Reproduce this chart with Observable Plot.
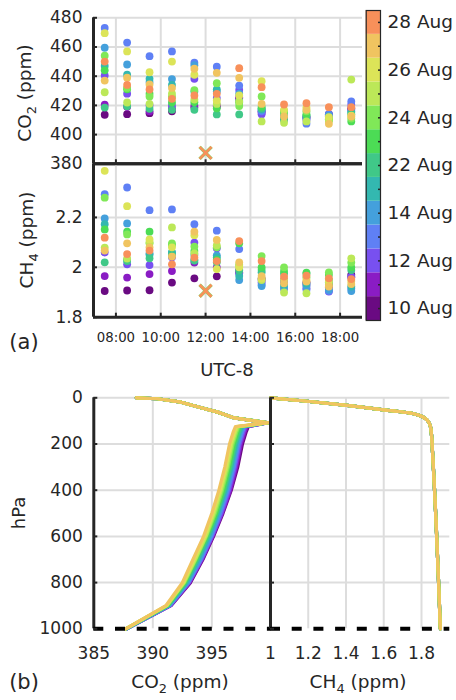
<!DOCTYPE html>
<html><head><meta charset="utf-8">
<script src="https://cdn.jsdelivr.net/npm/d3@7"></script>
<script src="https://cdn.jsdelivr.net/npm/@observablehq/plot@0.6"></script>
<style>
body{margin:0;background:#fff;}
#wrap{position:relative;width:456px;height:700px;overflow:hidden;font-family:"DejaVu Sans",sans-serif;color:#262626;background:#fff;}
#wrap svg{position:absolute;overflow:visible;background:transparent;}
.lbl{position:absolute;white-space:nowrap;font-family:"DejaVu Sans",sans-serif;color:#262626;line-height:1;}
.sub{font-size:0.7em;position:relative;top:0.38em;}
</style></head><body><div id="wrap"></div>
<script>
// ---------- categories ----------
const dates = ["10 Aug","11 Aug","12 Aug","13 Aug","14 Aug","21 Aug","22 Aug","23 Aug","24 Aug","25 Aug","26 Aug","27 Aug","28 Aug"];
const dateColors = ["#6a0a82","#8a1cc4","#7850f0","#5f80f5","#44a0dc","#33b8b0","#40c888","#4cdc55","#80e858","#bce858","#dce458","#f0c460","#f8905a"];
const colorbarLabels = ["10 Aug","12 Aug","14 Aug","22 Aug","24 Aug","26 Aug","28 Aug"];
const sampleHours = [7.5, 8.5, 9.5, 10.5, 11.5, 12.5, 13.5, 14.5, 15.5, 16.5, 17.5, 18.5];
const xTickHours = [8, 10, 12, 14, 16, 18];
const xTickLabels = ["08:00","10:00","12:00","14:00","16:00","18:00"];
const co2Ticks = [380, 400, 420, 440, 460, 480];
const ch4Ticks = [1.8, 2.0, 2.2];

// ---------- surface CO2 (ppm), one value per sample hour ----------
const co2Aug10 = [413.6, 414.0, 414.7, 416.0, 418.5, 419.0, 424.5, 416.0, 413.0, 412.0, 414.0, 418.0];
const co2Aug11 = [420.5, 419.0, 416.0, 418.0, 420.0, 420.0, 425.6, 415.0, 412.0, 411.5, 413.0, 417.0];
const co2Aug12 = [440.5, 428.0, 420.0, 420.0, 438.2, 425.0, 430.6, 414.0, 410.0, 410.0, 412.5, 420.5];
const co2Aug13 = [473.0, 463.0, 453.7, 457.0, 449.2, 446.5, 433.6, 416.0, 413.0, 407.5, 414.0, 422.7];
const co2Aug14 = [459.5, 448.0, 436.0, 438.0, 447.5, 429.5, 428.0, 417.0, 414.0, 411.0, 413.0, 416.0];
const co2Aug21 = [447.0, 441.0, 438.2, 434.0, 429.5, 431.0, 423.0, 417.5, 410.5, 412.5, 410.5, 415.0];
const co2Aug22 = [418.5, 419.5, 417.7, 417.0, 417.0, 413.8, 413.8, 418.0, 411.0, 413.0, 410.0, 414.0];
const co2Aug23 = [444.0, 431.0, 428.0, 422.0, 422.2, 418.0, 422.0, 419.0, 416.0, 414.0, 410.3, 409.0];
const co2Aug24 = [454.0, 432.0, 426.1, 426.0, 430.5, 435.2, 419.6, 426.1, 415.0, 416.0, 411.0, 411.0];
const co2Aug25 = [429.0, 422.0, 421.1, 428.0, 424.0, 421.0, 422.7, 409.0, 408.1, 409.0, 409.5, 437.7];
const co2Aug26 = [469.5, 457.0, 442.7, 450.0, 441.0, 423.4, 426.8, 436.6, 417.0, 418.5, 412.0, 413.0];
const co2Aug27 = [437.0, 439.0, 434.3, 432.0, 445.1, 442.3, 438.9, 421.0, 412.4, 417.0, 407.4, 412.4];
const co2Aug28 = [450.0, 434.0, 430.9, 424.5, 426.8, 427.9, 445.5, 432.5, 420.6, 421.5, 418.8, 418.8];

// ---------- surface CH4 (ppm) ----------
const ch4Aug10 = [1.905, 1.907, 1.908, 1.939, 1.956, 1.964, 1.980, 1.955, 1.950, 1.940, 1.930, 1.970];
const ch4Aug11 = [1.965, 1.959, 1.973, 1.985, 2.019, 2.000, 1.990, 1.950, 1.940, 1.930, 1.920, 1.960];
const ch4Aug12 = [2.059, 2.012, 2.009, 2.040, 2.099, 2.076, 1.976, 1.940, 1.943, 1.916, 1.903, 1.963];
const ch4Aug13 = [2.293, 2.320, 2.229, 2.232, 2.173, 2.147, 2.073, 1.930, 1.913, 1.910, 1.905, 1.915];
const ch4Aug14 = [2.196, 2.176, 2.055, 2.059, 2.050, 2.048, 1.949, 1.925, 1.920, 1.925, 1.910, 1.905];
const ch4Aug21 = [2.173, 2.030, 2.050, 2.060, 2.030, 2.040, 1.965, 1.980, 1.930, 1.935, 1.940, 1.923];
const ch4Aug22 = [2.020, 2.025, 2.036, 2.050, 2.027, 2.020, 1.987, 1.989, 1.975, 1.975, 1.950, 1.989];
const ch4Aug23 = [2.152, 2.143, 2.143, 2.090, 2.065, 2.030, 2.096, 2.000, 1.985, 1.979, 1.970, 2.000];
const ch4Aug24 = [2.279, 2.132, 2.096, 2.096, 2.083, 2.080, 2.010, 2.045, 2.000, 1.960, 1.980, 2.019];
const ch4Aug25 = [2.079, 2.035, 2.100, 2.160, 2.056, 2.088, 2.005, 1.949, 1.899, 1.896, 1.930, 2.036];
const ch4Aug26 = [2.387, 2.245, 2.112, 2.080, 2.129, 1.993, 2.000, 1.955, 1.950, 1.950, 1.943, 1.945];
const ch4Aug27 = [2.067, 2.096, 2.080, 2.043, 2.143, 2.110, 2.020, 1.965, 1.936, 1.943, 1.923, 1.933];
const ch4Aug28 = [2.119, 2.053, 2.067, 2.012, 2.039, 2.025, 2.105, 2.025, 1.963, 1.967, 1.956, 1.953];

// ---------- single observation (cross) ----------
const obsHour = [12];
const obsCO2 = [387.5];
const obsCH4 = [1.906];

// ---------- vertical profiles (b) ----------
const profileLevels = [0, 4, 19, 43, 62, 87, 100, 108, 125, 150, 200, 300, 400, 500, 600, 700, 800, 900, 1000];
const profAug10 = [388.6, 390.4, 392.4, 394.1, 395.5, 396.9, 398.6, 399.8, 398.1, 397.9, 397.6, 397.2, 396.65, 395.95, 395.15, 394.25, 393.2, 391.55, 387.8];
const profAug11 = [388.6, 390.4, 392.4, 394.1, 395.5, 396.9, 398.6, 399.8, 398.0, 397.8, 397.5, 397.1, 396.6, 395.9, 395.1, 394.2, 393.15, 391.5, 387.8];
const profAug12 = [388.6, 390.4, 392.4, 394.1, 395.5, 396.9, 398.6, 399.8, 397.9, 397.7, 397.4, 397.0, 396.5, 395.85, 395.05, 394.15, 393.1, 391.5, 387.8];
const profAug13 = [388.6, 390.4, 392.4, 394.1, 395.5, 396.9, 398.6, 399.8, 397.8, 397.6, 397.3, 396.9, 396.4, 395.75, 395.0, 394.1, 393.05, 391.45, 387.8];
const profAug14 = [388.6, 390.4, 392.4, 394.1, 395.5, 396.9, 398.6, 399.8, 397.7, 397.5, 397.2, 396.8, 396.3, 395.65, 394.9, 394.0, 393.0, 391.4, 387.8];
const profAug21 = [388.6, 390.4, 392.4, 394.1, 395.5, 396.9, 398.6, 399.8, 397.6, 397.4, 397.1, 396.7, 396.2, 395.55, 394.8, 393.9, 392.9, 391.35, 387.75];
const profAug22 = [388.6, 390.4, 392.4, 394.1, 395.5, 396.9, 398.7, 399.8, 397.5, 397.3, 397.0, 396.6, 396.1, 395.45, 394.7, 393.8, 392.8, 391.3, 387.75];
const profAug23 = [388.6, 390.4, 392.4, 394.1, 395.5, 396.9, 398.7, 399.8, 397.4, 397.2, 396.9, 396.5, 396.0, 395.4, 394.6, 393.7, 392.75, 391.25, 387.7];
const profAug24 = [388.6, 390.4, 392.4, 394.1, 395.5, 396.9, 398.7, 399.8, 397.3, 397.1, 396.8, 396.4, 395.9, 395.3, 394.55, 393.65, 392.7, 391.2, 387.7];
const profAug25 = [388.6, 390.4, 392.4, 394.1, 395.5, 396.9, 398.6, 399.8, 397.2, 397.0, 396.7, 396.3, 395.8, 395.2, 394.5, 393.6, 392.65, 391.2, 387.7];
const profAug26 = [388.6, 390.4, 392.4, 394.1, 395.5, 396.9, 398.6, 399.8, 397.1, 396.9, 396.6, 396.2, 395.7, 395.1, 394.4, 393.5, 392.6, 391.15, 387.7];
const profAug27 = [388.6, 390.4, 392.4, 394.1, 395.5, 396.9, 398.6, 399.8, 397.0, 396.8, 396.5, 396.1, 395.6, 395.0, 394.3, 393.4, 392.5, 391.1, 387.7];
const ch4Levels = [0, 15, 33, 52, 69, 80, 91, 105, 127, 160, 214, 1000];
const ch4Profile = [1.0, 1.194, 1.406, 1.60, 1.759, 1.800, 1.822, 1.838, 1.848, 1.853, 1.857, 1.90];
const hPaTicks = [0, 200, 400, 600, 800, 1000];
const co2ProfTicks = [385, 390, 395];
const ch4ProfTicks = [1, 1.2, 1.4, 1.6, 1.8];

// ---------- build tables ----------
const co2Series = [co2Aug10, co2Aug11, co2Aug12, co2Aug13, co2Aug14, co2Aug21, co2Aug22, co2Aug23, co2Aug24, co2Aug25, co2Aug26, co2Aug27, co2Aug28];
const ch4Series = [ch4Aug10, ch4Aug11, ch4Aug12, ch4Aug13, ch4Aug14, ch4Aug21, ch4Aug22, ch4Aug23, ch4Aug24, ch4Aug25, ch4Aug26, ch4Aug27, ch4Aug28];
const profSeries = [profAug10, profAug11, profAug12, profAug13, profAug14, profAug21, profAug22, profAug23, profAug24, profAug25, profAug26, profAug27];
const co2Table = [], ch4Table = [];
dates.forEach((d, i) => {
  sampleHours.forEach((h, j) => {
    co2Table.push({date: d, hour: h, value: co2Series[i][j], color: dateColors[i]});
    ch4Table.push({date: d, hour: h, value: ch4Series[i][j], color: dateColors[i]});
  });
});
const obsTable = obsHour.map((h, i) => ({hour: h, co2: obsCO2[i], ch4: obsCH4[i]}));
const profTable = [], ch4ProfTable = [];
profSeries.forEach((s, i) => {
  profileLevels.forEach((p, k) => profTable.push({date: dates[i], p, v: s[k], color: dateColors[i]}));
  ch4Levels.forEach((p, k) => ch4ProfTable.push({date: dates[i], p, v: ch4Profile[k], color: dateColors[i]}));
});

// ---------- styling ----------
const ink = "#262626", grid = "#dddddd", FONT = "DejaVu Sans";
const wrap = document.getElementById("wrap");
const baseStyle = {fontFamily: FONT, color: ink, background: "transparent", overflow: "visible"};
function place(svg, left, top) { svg.style.left = left + "px"; svg.style.top = top + "px"; wrap.append(svg); }
const fmt1 = d => String(+(+d).toFixed(1));
const fmtInt = d => String(d);
const hourLabel = h => xTickLabels[xTickHours.indexOf(h)];

// ---------- (a) CO2 ----------
place(Plot.plot({
  width: 380, height: 166, marginLeft: 93, marginRight: 18, marginTop: 17.3, marginBottom: 2.7,
  x: {domain: [7, 19]}, y: {domain: [380, 480]}, color: {type: "identity"},
  style: baseStyle,
  marks: [
    Plot.gridX(xTickHours, {stroke: grid, strokeOpacity: 1, strokeWidth: 2}),
    Plot.gridY(co2Ticks, {stroke: grid, strokeOpacity: 1, strokeWidth: 2}),
    Plot.dot(co2Table, {x: "hour", y: "value", fill: "color", r: 3.9}),
    Plot.dot(obsTable, {x: "hour", y: "co2", symbol: "times", stroke: "#7ed860", strokeWidth: 3.4, r: 5.5}),
    Plot.dot(obsTable, {x: "hour", y: "co2", symbol: "times", stroke: "#f8905a", strokeWidth: 2.6, r: 5.5}),
    Plot.ruleX([7], {stroke: ink, strokeWidth: 3}),
    Plot.ruleY([380], {stroke: ink, strokeWidth: 3}),
    Plot.axisY(co2Ticks, {tickSize: 4, dx: 4, strokeWidth: 2, tickFormat: () => "", label: null}),
    Plot.axisX(xTickHours, {tickSize: 4, dy: -4, strokeWidth: 2, tickFormat: () => "", label: null}),
    Plot.axisY(co2Ticks, {tickSize: 0, tickPadding: 11, fontSize: 17, fill: ink, tickFormat: fmtInt, label: null})
  ]
}), 0, 0);

// ---------- (a) CH4 ----------
place(Plot.plot({
  width: 380, height: 190, marginLeft: 93, marginRight: 18, marginTop: 3.3, marginBottom: 33.3,
  x: {domain: [7, 19]}, y: {domain: [1.8, 2.415]}, color: {type: "identity"},
  style: baseStyle,
  marks: [
    Plot.gridX(xTickHours, {stroke: grid, strokeOpacity: 1, strokeWidth: 2}),
    Plot.gridY(ch4Ticks, {stroke: grid, strokeOpacity: 1, strokeWidth: 2}),
    Plot.dot(ch4Table, {x: "hour", y: "value", fill: "color", r: 3.9}),
    Plot.dot(obsTable, {x: "hour", y: "ch4", symbol: "times", stroke: "#7ed860", strokeWidth: 3.4, r: 5.5}),
    Plot.dot(obsTable, {x: "hour", y: "ch4", symbol: "times", stroke: "#f8905a", strokeWidth: 2.6, r: 5.5}),
    Plot.ruleX([7], {stroke: ink, strokeWidth: 3}),
    Plot.ruleY([1.8, 2.415], {stroke: ink, strokeWidth: 3}),
    Plot.axisY(ch4Ticks, {tickSize: 4, dx: 4, strokeWidth: 2, tickFormat: () => "", label: null}),
    Plot.axisX(xTickHours, {tickSize: 4, dy: -4, strokeWidth: 2, tickFormat: () => "", label: null}),
    Plot.axisY(ch4Ticks, {tickSize: 0, tickPadding: 11, fontSize: 17, fill: ink, tickFormat: fmt1, label: null}),
    Plot.axisX(xTickHours, {tickSize: 0, tickPadding: 15, fontSize: 13.3, fill: ink, tickFormat: hourLabel, label: null})
  ]
}), 0, 160);

// ---------- colorbar ----------
place(Plot.plot({
  width: 96, height: 330, marginLeft: 5.7, marginRight: 76, marginTop: 10, marginBottom: 10,
  y: {type: "band", domain: dates.slice().reverse(), padding: 0, round: false}, color: {type: "identity"},
  style: baseStyle,
  marks: [
    Plot.cell(dates, {y: d => d, fill: (d, i) => dateColors[i], inset: 0}),
    Plot.frame({stroke: ink, strokeWidth: 1.2}),
    Plot.axisY(dates, {anchor: "right", tickSize: 3, dx: -3, strokeWidth: 1.5, tickFormat: () => "", label: null}),
    Plot.axisY(colorbarLabels, {anchor: "right", tickSize: 0, tickPadding: 7, fontSize: 18.5, fill: ink, label: null})
  ]
}), 360, 0);

// ---------- (b) CO2 profile ----------
place(Plot.plot({
  width: 272, height: 320, marginLeft: 93.3, marginRight: 1.7, marginTop: 17.3, marginBottom: 71.7,
  x: {domain: [385, 400]}, y: {domain: [0, 1000], reverse: true}, color: {type: "identity"},
  style: baseStyle,
  marks: [
    Plot.gridX([390, 395], {stroke: grid, strokeOpacity: 1, strokeWidth: 2}),
    Plot.gridY([0, 200, 400, 600, 800], {stroke: grid, strokeOpacity: 1, strokeWidth: 2}),
    Plot.line(profTable, {x: "v", y: "p", z: "date", stroke: "color", strokeWidth: 3.2, curve: "linear"}),
    Plot.ruleX([385], {stroke: ink, strokeWidth: 3}),
    Plot.ruleY([1000], {stroke: "#000", strokeWidth: 4, strokeDasharray: "10,11.7"}),
    Plot.axisY(hPaTicks, {tickSize: 4, dx: 4, strokeWidth: 2, tickFormat: () => "", label: null}),
    Plot.axisY(hPaTicks, {tickSize: 0, tickPadding: 11, fontSize: 17, fill: ink, tickFormat: fmtInt, label: null}),
    Plot.axisX(co2ProfTicks, {tickSize: 0, tickPadding: 18.5, fontSize: 17, fill: ink, tickFormat: fmtInt, label: null})
  ]
}), 0, 380);

// ---------- (b) CH4 profile ----------
place(Plot.plot({
  width: 196, height: 320, marginLeft: 10, marginRight: 6.7, marginTop: 17.3, marginBottom: 71.7,
  x: {domain: [1, 1.95]}, y: {domain: [0, 1000], reverse: true}, color: {type: "identity"},
  style: baseStyle,
  marks: [
    Plot.gridX([1.2, 1.4, 1.6, 1.8], {stroke: grid, strokeOpacity: 1, strokeWidth: 2}),
    Plot.gridY([0, 200, 400, 600, 800], {stroke: grid, strokeOpacity: 1, strokeWidth: 2}),
    Plot.line(ch4ProfTable, {x: "v", y: "p", z: "date", stroke: "color", strokeWidth: 3.2, curve: "monotone-y"}),
    Plot.ruleX([1], {stroke: ink, strokeWidth: 3}),
    Plot.ruleY([1000], {stroke: "#000", strokeWidth: 4, strokeDasharray: "10,11.7"}),
    Plot.axisY(hPaTicks, {tickSize: 4, dx: 4, strokeWidth: 2, tickFormat: () => "", label: null}),
    Plot.axisX(ch4ProfTicks, {tickSize: 0, tickPadding: 18.5, fontSize: 17, fill: ink, tickFormat: fmt1, label: null})
  ]
}), 260, 380);

// ---------- text labels ----------
function label(html, cx, cy, size, rotate) {
  const el = document.createElement("div");
  el.className = "lbl";
  el.innerHTML = html;
  el.style.fontSize = size + "px";
  el.style.left = cx + "px";
  el.style.top = cy + "px";
  el.style.transform = "translate(-50%,-50%)" + (rotate ? " rotate(-90deg)" : "");
  wrap.append(el);
}
label('CO<span class="sub">2</span> (ppm)', 25, 93, 18.5, true);
label('CH<span class="sub">4</span> (ppm)', 27, 240, 18.5, true);
label('(a)', 24, 342, 21);
label('UTC-8', 227, 370, 18);
label('hPa', 19, 513, 18, true);
label('CO<span class="sub">2</span> (ppm)', 180, 682, 18.5);
label('CH<span class="sub">4</span> (ppm)', 358, 682, 18.5);
label('(b)', 24, 682, 21);
</script></body></html>
